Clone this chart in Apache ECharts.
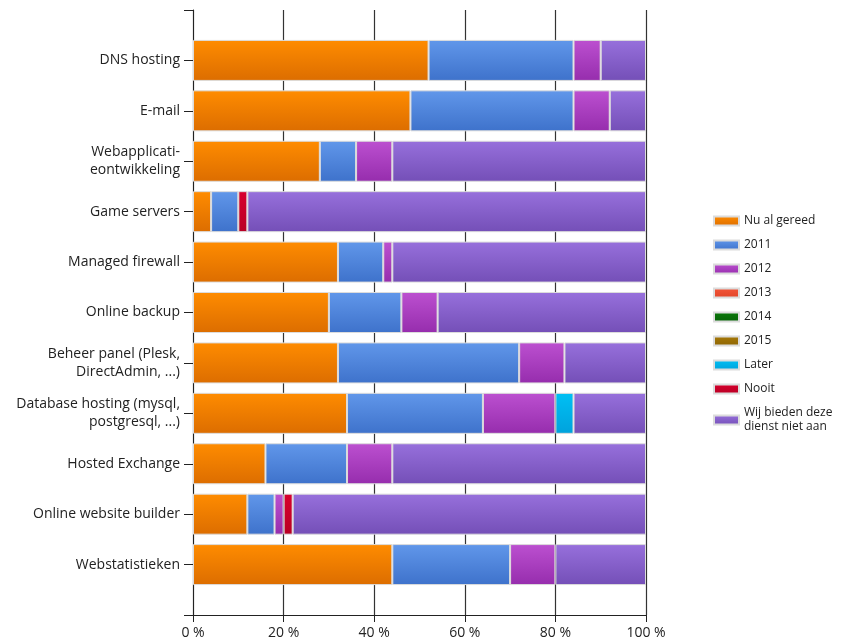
<!DOCTYPE html>
<html>
<head>
<meta charset="utf-8">
<script src="https://cdn.jsdelivr.net/npm/echarts@6/dist/echarts.min.js"></script>
<style>html,body{margin:0;padding:0;background:#fff}#c{width:842px;height:643px}</style>
</head>
<body>
<div id="c"></div>
<script>
var categories = ['DNS hosting', 'E-mail', 'Webapplicati-\neontwikkeling', 'Game servers', 'Managed firewall', 'Online backup', 'Beheer panel (Plesk,\nDirectAdmin, ...)', 'Database hosting (mysql,\npostgresql, ...)', 'Hosted Exchange', 'Online website builder', 'Webstatistieken'];
var nuAlGereed = [52, 48, 28, 4, 32, 30, 32, 34, 16, 12, 44];
var y2011 = [32, 36, 8, 6, 10, 16, 40, 30, 18, 6, 26];
var y2012 = [6, 8, 8, 0, 2, 8, 10, 16, 10, 2, 10];
var y2013 = [0, 0, 0, 0, 0, 0, 0, 0, 0, 0, 0];
var y2014 = [0, 0, 0, 0, 0, 0, 0, 0, 0, 0, 0];
var y2015 = [0, 0, 0, 0, 0, 0, 0, 0, 0, 0, 0];
var later = [0, 0, 0, 0, 0, 0, 0, 4, 0, 0, 0];
var nooit = [0, 0, 0, 2, 0, 0, 0, 0, 0, 2, 0];
var nietAan = [10, 8, 56, 88, 56, 46, 18, 16, 56, 78, 20];
var xTicks = ['0 %', '20 %', '40 %', '60 %', '80 %', '100 %'];

var seriesDefs = [
  ['Nu al gereed', nuAlGereed, '#ff8c00', '#dc6d00'],
  ['2011', y2011, '#6197ea', '#3e72cb'],
  ['2012', y2012, '#bc50d0', '#962dad'],
  ['2013', y2013, '#f4563a', '#e04428'],
  ['2014', y2014, '#0a7a0a', '#076207'],
  ['2015', y2015, '#a87a08', '#8c6404'],
  ['Later', later, '#00c0f4', '#00a2dc'],
  ['Nooit', nooit, '#d8002e', '#b80024'],
  ['Wij bieden deze\ndienst niet aan', nietAan, '#9770dc', '#744fb7']
];

var cats = [''].concat(categories).concat(['']);
var series = seriesDefs.map(function (d) {
  return {
    name: d[0],
    type: 'bar',
    stack: 'all',
    barWidth: 41,
    data: [null].concat(d[1].map(function (v) { return v === 0 ? null : v; })).concat([null]),
    itemStyle: {
      color: new echarts.graphic.LinearGradient(0, 0, 0, 1, [
        { offset: 0, color: d[2] }, { offset: 1, color: d[3] }
      ]),
      borderColor: '#dcdcdc',
      borderWidth: 1
    },
    emphasis: { disabled: true }
  };
});

var chart = echarts.init(document.getElementById('c'));
chart.setOption({
  animation: false,
  backgroundColor: '#fff',
  grid: { left: 193, right: 196, top: 10, bottom: 28, containLabel: false },
  legend: {
    orient: 'vertical',
    left: 708,
    top: 209,
    icon: 'rect',
    itemWidth: 25,
    itemHeight: 9,
    itemGap: 10,
    textStyle: { fontFamily: 'Open Sans', fontSize: 12, color: '#222', lineHeight: 14 },
    selectedMode: false
  },
  xAxis: {
    type: 'value',
    min: 0,
    max: 100,
    interval: 20,
    axisLine: { show: true, lineStyle: { color: '#222', width: 1 } },
    axisTick: { show: true, length: 7, lineStyle: { color: '#222' } },
    splitLine: { show: true, lineStyle: { color: '#333', width: 1.2 } },
    axisLabel: {
      fontFamily: 'Open Sans', fontSize: 14, color: '#222', margin: 11,
      formatter: function (v) { return xTicks[Math.round(v / 20)]; }
    }
  },
  yAxis: {
    type: 'category',
    inverse: true,
    boundaryGap: false,
    data: cats,
    axisLine: { show: true, lineStyle: { color: '#222', width: 1 } },
    axisTick: { show: true, length: 9, lineStyle: { color: '#222' } },
    axisLabel: { fontFamily: 'Open Sans', fontSize: 14, color: '#222', margin: 13, lineHeight: 18, interval: 0 },
    splitLine: { show: false }
  },
  series: series
});
</script>
</body>
</html>
